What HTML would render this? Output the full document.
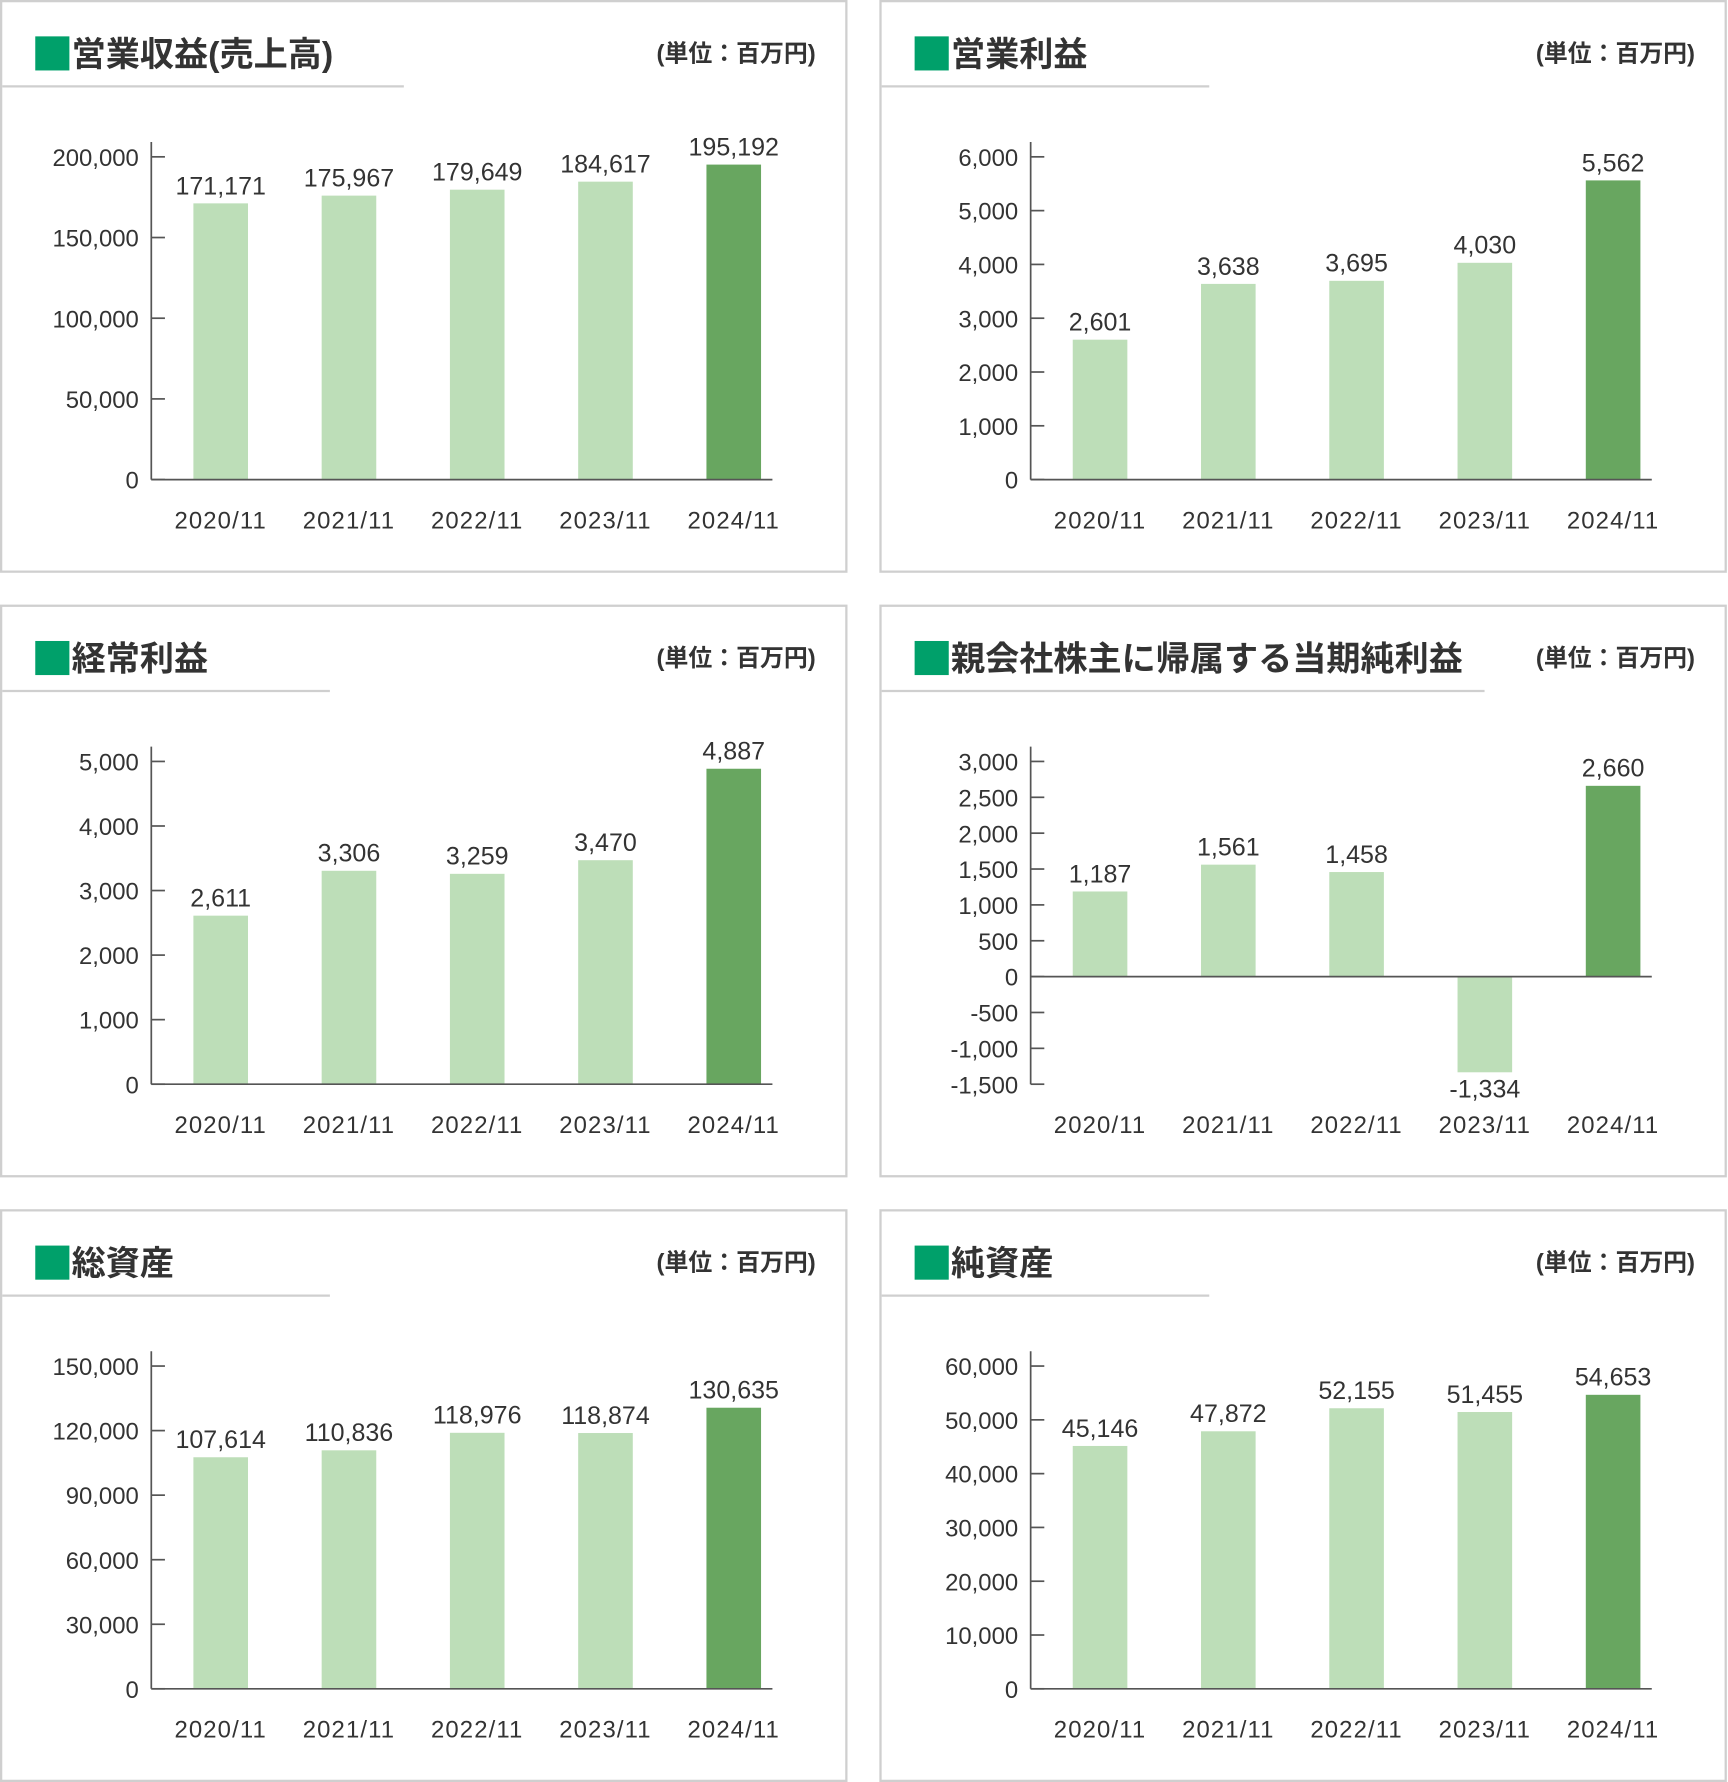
<!DOCTYPE html>
<html><head><meta charset="utf-8">
<style>
html,body{margin:0;padding:0;background:#fff;}
svg{display:block;font-family:"Liberation Sans","Noto Sans CJK JP",sans-serif;}
</style></head>
<body>
<svg id="root" width="1728" height="1782" viewBox="0 0 1519 1568" preserveAspectRatio="none" xmlns="http://www.w3.org/2000/svg"></svg>
<script>
const categories = ["2020/11","2021/11","2022/11","2023/11","2024/11"];

const revenueValues = [171171,175967,179649,184617,195192];
const revenueLabels = ["171,171","175,967","179,649","184,617","195,192"];
const revenueTicks = [0,50000,100000,150000,200000];
const revenueTickLabels = ["0","50,000","100,000","150,000","200,000"];

const opProfitValues = [2601,3638,3695,4030,5562];
const opProfitLabels = ["2,601","3,638","3,695","4,030","5,562"];
const opProfitTicks = [0,1000,2000,3000,4000,5000,6000];
const opProfitTickLabels = ["0","1,000","2,000","3,000","4,000","5,000","6,000"];

const ordProfitValues = [2611,3306,3259,3470,4887];
const ordProfitLabels = ["2,611","3,306","3,259","3,470","4,887"];
const ordProfitTicks = [0,1000,2000,3000,4000,5000];
const ordProfitTickLabels = ["0","1,000","2,000","3,000","4,000","5,000"];

const netIncomeValues = [1187,1561,1458,-1334,2660];
const netIncomeLabels = ["1,187","1,561","1,458","-1,334","2,660"];
const netIncomeTicks = [-1500,-1000,-500,0,500,1000,1500,2000,2500,3000];
const netIncomeTickLabels = ["-1,500","-1,000","-500","0","500","1,000","1,500","2,000","2,500","3,000"];

const assetsValues = [107614,110836,118976,118874,130635];
const assetsLabels = ["107,614","110,836","118,976","118,874","130,635"];
const assetsTicks = [0,30000,60000,90000,120000,150000];
const assetsTickLabels = ["0","30,000","60,000","90,000","120,000","150,000"];

const netAssetsValues = [45146,47872,52155,51455,54653];
const netAssetsLabels = ["45,146","47,872","52,155","51,455","54,653"];
const netAssetsTicks = [0,10000,20000,30000,40000,50000,60000];
const netAssetsTickLabels = ["0","10,000","20,000","30,000","40,000","50,000","60,000"];

const NS="http://www.w3.org/2000/svg";
const root=document.getElementById('root');
function mk(tag,attrs,parent,text){
  const e=document.createElementNS(NS,tag);
  for(const k in attrs)e.setAttribute(k,attrs[k]);
  if(text!==undefined)e.textContent=text;
  (parent||root).appendChild(e);return e;
}

const panels=[
 {name:"operating-revenue",title:"営業収益(売上高)",px:0,py:0,ul:355,vals:revenueValues,lbls:revenueLabels,ticks:revenueTicks,tl:revenueTickLabels},
 {name:"operating-profit",title:"営業利益",px:773,py:0,ul:290,vals:opProfitValues,lbls:opProfitLabels,ticks:opProfitTicks,tl:opProfitTickLabels},
 {name:"ordinary-profit",title:"経常利益",px:0,py:532,ul:290,vals:ordProfitValues,lbls:ordProfitLabels,ticks:ordProfitTicks,tl:ordProfitTickLabels},
 {name:"net-income",title:"親会社株主に帰属する当期純利益",px:773,py:532,ul:532,vals:netIncomeValues,lbls:netIncomeLabels,ticks:netIncomeTicks,tl:netIncomeTickLabels},
 {name:"total-assets",title:"総資産",px:0,py:1064,ul:290,vals:assetsValues,lbls:assetsLabels,ticks:assetsTicks,tl:assetsTickLabels},
 {name:"net-assets",title:"純資産",px:773,py:1064,ul:290,vals:netAssetsValues,lbls:netAssetsLabels,ticks:netAssetsTicks,tl:netAssetsTickLabels}
];

panels.forEach(p=>{
  const g=mk('g',{transform:`translate(${p.px},${p.py})`});
  
  
  const border=mk('rect',{x:1,y:1,width:743,height:502,fill:'#fff',stroke:'#cfcfcf','stroke-width':2},g);
  
  
  const sq=mk('rect',{x:31,y:32,width:30,height:30,fill:'#00a06a'},g);
  
  
  const t=mk('text',{x:63,y:58,'font-size':30,'font-weight':'bold',fill:'#333'},g,p.title);
  
  
  const ul=mk('line',{x1:2,y1:76,x2:p.ul,y2:76,stroke:'#cfcfcf','stroke-width':2},g);
  
  
  const u=mk('text',{x:717,y:54,'font-size':21,'font-weight':'bold',fill:'#333','text-anchor':'end'},g,'(単位：百万円)');
  
  

  const ax=133, top=138, bot=422, right=679;
  const mn=Math.min(...p.ticks), mx=Math.max(...p.ticks);
  const y=v=>bot-(v-mn)/(mx-mn)*(bot-top);
  const xc=i=>194+i*112.75;
  const y0=y(0);

  const yAxis=mk('line',{x1:ax,y1:top-13,x2:ax,y2:bot,stroke:'#555','stroke-width':1.5},g);
  
  
  p.ticks.forEach((tv,i)=>{
    const tk=mk('line',{x1:ax,y1:y(tv),x2:ax+12,y2:y(tv),stroke:'#555','stroke-width':1.5},g);
    
    
    const tt=mk('text',{x:122,y:y(tv)+8,'font-size':21,fill:'#333','text-anchor':'end'},g,p.tl[i]);
    
    
  });
  p.vals.forEach((v,i)=>{
    const yt=Math.min(y(v),y0), h=Math.abs(y(v)-y0);
    const b=mk('rect',{x:xc(i)-24,y:yt,width:48,height:h,fill:i===4?'#68a660':'#bddeb8'},g);
    
    
    const ly=v>=0?y(v)-8:y(v)+22;
    const vl=mk('text',{x:xc(i),y:ly,'font-size':22,fill:'#333','text-anchor':'middle'},g,p.lbls[i]);
    
    
    const xl=mk('text',{x:xc(i),y:465,'font-size':21,fill:'#333','text-anchor':'middle','letter-spacing':1},g,categories[i]);
    
    
  });
  const xAxis=mk('line',{x1:ax,y1:y0,x2:right,y2:y0,stroke:'#555','stroke-width':1.5},g);
  
  
});
</script>
</body></html>
